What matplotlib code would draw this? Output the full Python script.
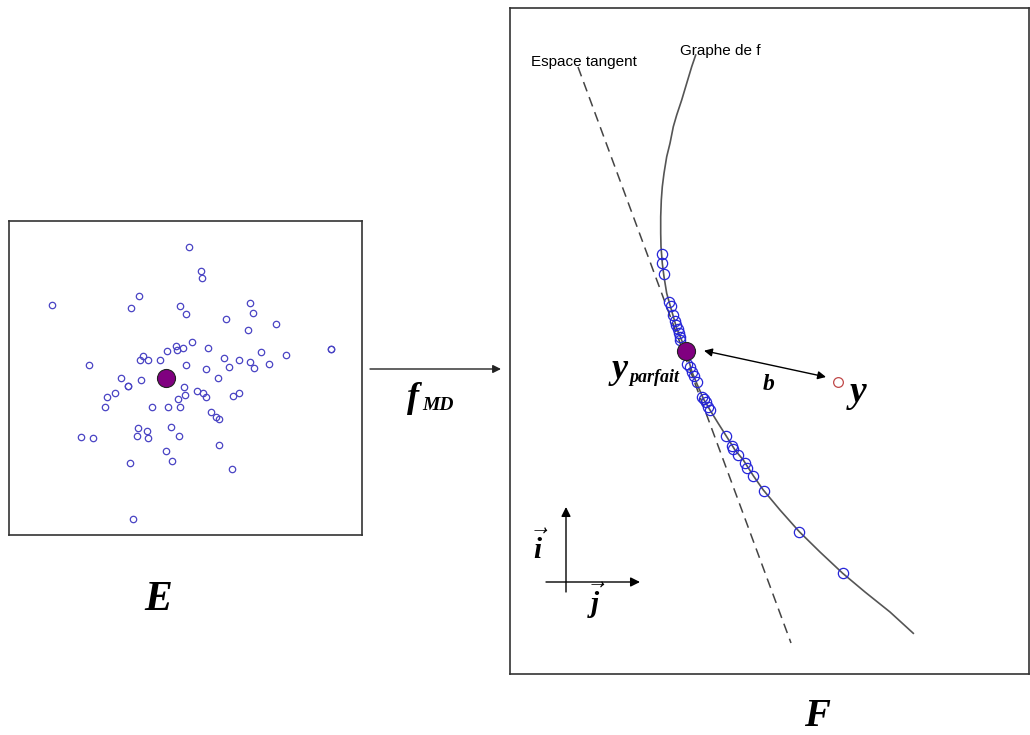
import matplotlib
matplotlib.use("Agg")
import matplotlib.pyplot as plt

plt.rcParams['mathtext.fontset'] = 'custom'
plt.rcParams['mathtext.it'] = 'Liberation Serif:italic:bold'
plt.rcParams['mathtext.rm'] = 'Liberation Serif:bold'

W, H = 1030, 735

# espace E : nuage de points (coordonnees en pixels de l'image)
e_x = [189.3, 201, 202, 139.3, 52.3, 131, 179.7, 186.3, 249.7, 253, 226, 276, 248,
       191.7, 175.7, 177, 182.7, 166.7, 208.3, 142.7, 140.3, 147.7, 160, 89.3, 186,
       223.7, 238.7, 250.3, 261.3, 286.3, 330.7, 331.3, 269, 254, 229, 206.3, 217.7,
       121, 141, 127.7, 128.3, 115.3, 107, 104.7, 183.7, 197.3, 203.3, 205.7, 185,
       178, 233.3, 239.3, 152, 167.7, 180.3, 210.7, 216.3, 219, 138.3, 147, 137.3,
       147.7, 171, 179, 81, 93, 218.7, 166, 171.7, 130.3, 232.3, 132.7]
e_y = [247.3, 271, 278, 296.3, 305, 308.3, 306, 314, 302.7, 313, 318.7, 324, 329.7,
       341.7, 346, 349.7, 348, 351, 348, 356, 360, 360, 360, 365.3, 364.7,
       358.3, 360, 362, 352.3, 355, 349, 349.3, 364, 368, 367, 369.3, 378,
       377.7, 380.3, 385.7, 385.7, 393, 397.3, 406.7, 387, 390.7, 392.7, 397.3, 395,
       399.3, 396, 393, 406.7, 406.7, 407.3, 411.7, 417, 419.3, 427.7, 431, 436.3,
       437.7, 426.7, 436, 437, 438.3, 444.7, 451, 461, 463, 468.7, 519.3]
e_centre = (166, 377.7)

# espace F : graphe de f, espace tangent, points images
graphe_x = [695.7, 691.7, 686.7, 681.7, 676.7, 673.3, 670, 666.7, 664, 662.3, 661.3,
            660.7, 660.7, 661, 662.3, 664, 666.7, 670, 676.7, 686, 692, 696.7, 703.5,
            710, 718, 726.7, 735, 743.3, 753.3, 763.3, 780, 799.3, 820, 842.7, 865,
            890, 913.3]
graphe_y = [55, 66.7, 83.3, 100, 115, 126.7, 143.3, 156.7, 173.3, 186.7, 200,
            216.7, 233.3, 246.7, 263.3, 276.7, 293.3, 305, 328.3, 350.7, 372, 383.3, 399,
            410, 423, 436.7, 450, 460, 475.7, 490, 510, 531.7, 552, 573.3, 592,
            612, 633.3]
tangent_x = [578, 791]
tangent_y = [67, 643]
f_x = [661.7, 662.3, 663.5, 668.5, 670.5, 672.7, 675, 676, 677.5, 679, 680, 679.5,
       687, 690, 692, 693.5, 696.7, 701.7, 703.5, 706, 708, 710, 726, 731.7, 733,
       738.3, 745, 747.3, 753.3, 764, 799.3, 842.7]
f_y = [254, 263.3, 273.5, 302, 306, 314.5, 321, 325, 328.5, 333, 337, 340,
       363.5, 367, 372, 376, 382, 397, 399, 402, 407, 410, 436, 446, 448.5,
       455, 462.7, 468.3, 475.7, 490.7, 531.7, 573.3]
y_parfait = (686, 350.7)
y_obs = (838.3, 381.7)

fig = plt.figure(figsize=(W / 100, H / 100), dpi=100)


def panel(x0, y0, x1, y1):
    ax = fig.add_axes([x0 / W, 1 - y1 / H, (x1 - x0) / W, (y1 - y0) / H])
    ax.set_xlim(x0, x1)
    ax.set_ylim(y1, y0)
    ax.set_xticks([])
    ax.set_yticks([])
    for s in ax.spines.values():
        s.set_color('#333333')
        s.set_linewidth(1.2)
    return ax


# fond commun pour les fleches et les lettres
bg = fig.add_axes([0, 0, 1, 1])
bg.set_xlim(0, W)
bg.set_ylim(H, 0)
bg.axis('off')

axE = panel(9, 221, 362, 535)
axE.plot(e_x, e_y, 'o', mfc='none', mec='#4a44c4', ms=4.6, mew=0.9)
axE.plot(*e_centre, 'o', color='#800080', mec='#222222', ms=13, mew=0.8)

axF = panel(510, 8, 1029, 674)
axF.plot(graphe_x, graphe_y, '-', color='#555555', lw=1.2)
axF.plot(tangent_x, tangent_y, color='#444444', lw=1.1, ls=(0, (6.5, 4)))
axF.plot(f_x, f_y, 'o', mfc='none', mec='#2626d8', ms=7.4, mew=0.9)
axF.plot(*y_parfait, 'o', color='#800080', mec='#222222', ms=13, mew=0.8, zorder=5)
axF.plot(*y_obs, 'o', mfc='none', mec='#c04848', ms=7, mew=0.9)

axF.text(531, 62, 'Espace tangent', fontsize=11, family='Liberation Sans', va='center')
axF.text(680, 51, 'Graphe de f', fontsize=11, family='Liberation Sans', va='center')

axF.annotate('', xy=(704, 350.7), xytext=(826, 377),
             arrowprops=dict(arrowstyle='<|-|>', color='black', lw=1.0,
                             mutation_scale=12, shrinkA=0, shrinkB=0))
axF.text(769, 383, '$b$', fontsize=17, ha='center', va='center')
serif_bi = dict(family='Liberation Serif', weight='bold', style='italic')
axF.text(628, 370, 'y', fontsize=26, ha='right', va='center', **serif_bi)
axF.text(629, 377, 'parfait', fontsize=13, ha='left', va='center', **serif_bi)
axF.text(857, 394, '$y$', fontsize=27, ha='center', va='center')

axF.annotate('', xy=(566, 507), xytext=(566, 592),
             arrowprops=dict(arrowstyle='-|>', color='black', lw=1.0,
                             mutation_scale=14, shrinkA=0, shrinkB=0))
axF.annotate('', xy=(640, 582), xytext=(546, 582),
             arrowprops=dict(arrowstyle='-|>', color='black', lw=1.0,
                             mutation_scale=14, shrinkA=0, shrinkB=0))
axF.text(540, 548, r'$\vec{i}$', fontsize=21, ha='center', va='center')
axF.text(596, 601, r'$\vec{j}$', fontsize=21, ha='center', va='center')

# fleche f_MD entre E et F
bg.annotate('', xy=(501, 369), xytext=(370, 369),
            arrowprops=dict(arrowstyle='-|>', color='#222222', lw=1.0,
                            mutation_scale=12, shrinkA=0, shrinkB=0))
bg.text(413, 398, 'f', fontsize=26, ha='center', va='center', **serif_bi)
bg.text(422, 405, 'MD', fontsize=14, ha='left', va='center', **serif_bi)

bg.text(158, 598, '$E$', fontsize=30, ha='center', va='center')
bg.text(818, 715, '$F$', fontsize=28, ha='center', va='center')

fig.savefig('out.png', dpi=100, facecolor='white')
